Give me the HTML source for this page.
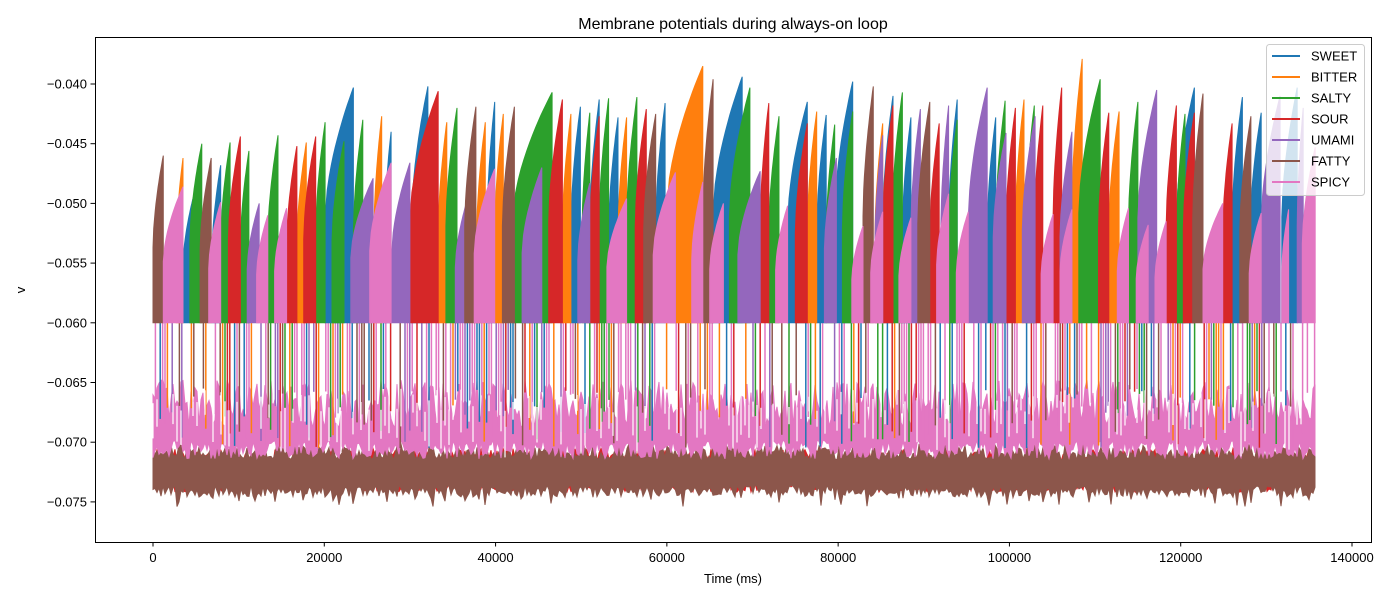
<!DOCTYPE html>
<html><head><meta charset="utf-8"><style>
body{margin:0;background:#fff;}
svg text{font-family:"Liberation Sans","DejaVu Sans",sans-serif;}
</style></head>
<body>
<svg id="chart" width="1400" height="600" viewBox="0 0 1400 600" xmlns="http://www.w3.org/2000/svg">
<rect width="1400" height="600" fill="#fff"/>
<text x="733" y="29" font-size="16" text-anchor="middle">Membrane potentials during always-on loop</text>
<g id="plot"></g>
<rect x="95.5" y="37.5" width="1276" height="505" fill="none" stroke="#000" stroke-width="1"/>
<g id="axes"></g>
<text x="733" y="583" font-size="13" text-anchor="middle">Time (ms)</text>
<text x="25" y="290" font-size="13" text-anchor="middle" transform="rotate(-90 25 290)">v</text>
<g id="legend"></g>
</svg>
<script>
const seriesNames = ["SWEET","BITTER","SALTY","SOUR","UMAMI","FATTY","SPICY"];
const seriesColors = ["#1f77b4","#ff7f0e","#2ca02c","#d62728","#9467bd","#8c564b","#e377c2"];
const xTicks = [0,20000,40000,60000,80000,100000,120000,140000];
const yTicks = [-0.040,-0.045,-0.050,-0.055,-0.060,-0.065,-0.070,-0.075];
const resetV = -0.060;
const restTop = [-0.0705,-0.0705,-0.0705,-0.0712,-0.0705,-0.0708,-0.0668];
const restBottom = [-0.0745,-0.0745,-0.0745,-0.0736,-0.0745,-0.0740,-0.0702];
const endMs = 135700;
// bursts: [startMs, endMs, seriesIndex, peakV]
const bursts = [
[0,1200,5,-0.0460],[1200,3500,6,-0.0486],[2700,3500,1,-0.0462],[3500,4700,0,-0.0495],[4300,5700,2,-0.0450],
[5500,6800,5,-0.0462],[6500,7900,6,-0.0499],[6900,7900,0,-0.0468],[7900,9000,2,-0.0449],[8800,10200,3,-0.0444],
[10200,11200,2,-0.0456],[11000,12400,4,-0.0500],[12100,13400,6,-0.0510],[13400,14600,2,-0.0443],[14200,15600,6,-0.0504],
[15600,16800,3,-0.0452],[16800,17900,1,-0.0449],[17600,19000,3,-0.0444],[19000,20100,2,-0.0432],[20100,23400,0,-0.0403],
[20900,22300,2,-0.0448],[23100,25700,4,-0.0479],[23400,24500,2,-0.0430],[25800,26700,1,-0.0427],[25300,27800,6,-0.0466],
[27000,27800,0,-0.0440],[27900,30000,4,-0.0466],[30200,32100,0,-0.0402],[30000,33300,3,-0.0406],[33300,34300,1,-0.0432],
[34200,35500,2,-0.0420],[35300,36700,4,-0.0497],[36400,37700,5,-0.0419],[37800,38800,1,-0.0432],[37500,39900,6,-0.0471],
[39000,39900,0,-0.0415],[39900,40900,1,-0.0425],[40800,42200,5,-0.0419],[42000,46600,2,-0.0407],[43100,45400,4,-0.0470],
[46200,47800,3,-0.0413],[47800,48800,1,-0.0425],[48800,49900,0,-0.0419],[49600,51000,4,-0.0483],[50100,51000,2,-0.0424],
[51000,52100,0,-0.0413],[51000,52100,3,-0.0427],[52100,53200,2,-0.0412],[53000,55300,6,-0.0496],[53200,54300,0,-0.0428],
[54300,55300,1,-0.0428],[55300,56500,2,-0.0411],[56300,57600,3,-0.0421],[57300,58700,5,-0.0425],[58700,59800,0,-0.0416],
[58400,61000,6,-0.0474],[60400,61000,4,-0.0474],[60000,64200,1,-0.0385],[62900,64200,6,-0.0482],[64200,65400,5,-0.0396],
[65400,68800,0,-0.0394],[65000,66600,6,-0.0500],[67300,69700,2,-0.0403],[68300,70900,4,-0.0473],[70900,71900,3,-0.0416],
[71900,73100,2,-0.0427],[72700,74100,6,-0.0502],[74100,76400,0,-0.0415],[75000,76400,3,-0.0433],[76400,77500,1,-0.0423],
[77500,78600,0,-0.0426],[78400,79800,4,-0.0462],[78600,79600,2,-0.0434],[79600,81700,0,-0.0398],[80500,81700,2,-0.0423],
[81600,82900,6,-0.0519],[82900,84100,5,-0.0402],[83800,85200,6,-0.0507],[84300,85200,1,-0.0433],[84300,85200,4,-0.0443],
[85200,86400,0,-0.0410],[85200,86400,3,-0.0418],[86300,87500,2,-0.0407],[87500,88500,0,-0.0428],[87100,88500,6,-0.0512],
[88500,89600,4,-0.0421],[89300,90700,5,-0.0415],[90700,91800,3,-0.0433],[91500,92900,6,-0.0492],[92000,92900,4,-0.0418],
[92900,93900,0,-0.0413],[92900,93900,2,-0.0430],[93800,95200,6,-0.0507],[95200,97400,4,-0.0403],[97400,98400,0,-0.0428],
[98100,99600,4,-0.0441],[98400,99500,2,-0.0414],[99600,100700,3,-0.0420],[100700,101700,1,-0.0413],[101500,103000,4,-0.0427],
[101900,102900,2,-0.0418],[102900,103900,3,-0.0418],[103700,105100,6,-0.0509],[105100,106100,3,-0.0403],[105900,107300,4,-0.0440],
[105900,107300,6,-0.0505],[107300,108500,1,-0.0379],[108100,110600,2,-0.0396],[110400,111600,3,-0.0424],[111600,112800,1,-0.0423],
[112600,113900,6,-0.0504],[113900,115000,2,-0.0415],[114800,116200,6,-0.0518],[115000,117200,4,-0.0405],[117000,118300,6,-0.0515],
[118300,119500,3,-0.0418],[119500,121600,0,-0.0403],[119500,120500,2,-0.0425],[120300,121600,3,-0.0424],[121400,122600,5,-0.0408],
[122600,124900,6,-0.0500],[124900,126000,3,-0.0433],[126000,127200,0,-0.0411],[126900,128200,5,-0.0427],[128100,129400,0,-0.0424],
[128000,129400,6,-0.0508],[129400,131600,4,-0.0410],[131800,133600,0,-0.0403],[131800,132600,6,-0.0505],[133600,134300,4,-0.0420],
[134200,135700,6,-0.0453]
];

const NS = "http://www.w3.org/2000/svg";
const xS = ms => 153 + ms * (1352 - 153) / 140000;
const yS = v => 84 + (-0.040 - v) / 0.005 * 59.7;
// deterministic texture jitter (visual noise texture only, not data)
function jit(i, s){ const x = Math.sin(i * 12.9898 + s * 78.233) * 43758.5453; return x - Math.floor(x); }

const svg = document.getElementById('chart');
const plot = document.getElementById('plot');
const clip = document.createElementNS(NS,'clipPath'); clip.setAttribute('id','pc');
const cr = document.createElementNS(NS,'rect'); cr.setAttribute('x',96); cr.setAttribute('y',38); cr.setAttribute('width',1275); cr.setAttribute('height',504);
clip.appendChild(cr); svg.appendChild(clip);
plot.setAttribute('clip-path','url(#pc)');

const x0 = xS(0), x1 = xS(endMs);

// resting noise bands (series order so SPICY lands on top)
for (let s = 0; s < seriesNames.length; s++) {
  if (s !== 5 && s !== 6 && s !== 3) continue;
  const top = [], bot = [];
  let i = 0;
  for (let x = x0; x <= x1 + 0.1; x += 2, i++) {
    const tv = restTop[s] + (jit(i, s + 11) - 0.5) * (s === 6 ? 0.0040 : 0.0014);
    const spike = (s === 5 && jit(i, 44) > 0.9) ? 0.0008 : 0;
    const bv = restBottom[s] - (jit(i, s + 21)) * (s === 6 ? 0.0016 : 0.0010) + 0.0004 - spike;
    top.push(x.toFixed(1) + ',' + yS(tv).toFixed(1));
    bot.unshift(x.toFixed(1) + ',' + yS(bv).toFixed(1));
  }
  const pg = document.createElementNS(NS,'polygon');
  
  
  pg.setAttribute('points', top.concat(bot).join(' '));
  pg.setAttribute('fill', seriesColors[s]);
  pg.setAttribute('stroke', seriesColors[s]); pg.setAttribute('stroke-width','1');
  plot.appendChild(pg);
}

// reset streaks: vertical lines from reset level down into the resting band
const streaks = document.createElementNS(NS,'g');


plot.appendChild(streaks);
let si = 0;
for (let x = x0; x <= x1; x += 2.4, si++) {
  if (jit(si, 3) < 0.35) continue;
  const r = jit(si, 5);
  const c = r < 0.35 ? 6 : Math.floor(jit(si, 6) * 6);
  const ln = document.createElementNS(NS,'line');
  
  
  const bottom = -0.0655 - 0.005 * jit(si, 9);
  ln.setAttribute('x1', x.toFixed(1)); ln.setAttribute('x2', x.toFixed(1));
  ln.setAttribute('y1', yS(resetV)); ln.setAttribute('y2', yS(bottom).toFixed(1));
  ln.setAttribute('stroke', seriesColors[c]); ln.setAttribute('stroke-width','1.5');
  streaks.appendChild(ln);
}
// white slits through the pink band
let wi = 0;
for (let x = x0; x <= x1; x += 4, wi++) {
  if (jit(wi, 33) < 0.5) continue;
  const ln = document.createElementNS(NS,'line');
  
  
  const a = -0.0655 - 0.002 * jit(wi, 34);
  const b = a - 0.001 - 0.003 * jit(wi, 35);
  ln.setAttribute('x1', x.toFixed(1)); ln.setAttribute('x2', x.toFixed(1));
  ln.setAttribute('y1', yS(a).toFixed(1)); ln.setAttribute('y2', yS(b).toFixed(1));
  ln.setAttribute('stroke', '#fff'); ln.setAttribute('stroke-width','1.2');
  plot.appendChild(ln);
}

// bursts per series
for (let s = 0; s < seriesNames.length; s++) {
  const g = document.createElementNS(NS,'g');
  
  
  plot.appendChild(g);
  const col = seriesColors[s];
  bursts.forEach((b) => {
    if (b[2] !== s) return;
    const bx0 = xS(b[0]), bx1 = xS(b[1]);
    let p = [bx0.toFixed(1) + ',' + yS(resetV).toFixed(1)];
    const n = 14;
    for (let j = 0; j <= n; j++) {
      const f = j / n;
      const v = resetV + (b[3] - resetV) * (0.45 + 0.55 * Math.pow(f, 0.6));
      p.push((bx0 + (bx1 - bx0) * f).toFixed(1) + ',' + yS(v).toFixed(1));
    }
    p.push(bx1.toFixed(1) + ',' + yS(resetV).toFixed(1));
    const poly = document.createElementNS(NS,'polygon');
    
    
    poly.setAttribute('points', p.join(' '));
    poly.setAttribute('fill', col); poly.setAttribute('stroke', col); poly.setAttribute('stroke-width','1');
    g.appendChild(poly);
  });
}

// axes ticks
const axes = document.getElementById('axes');
xTicks.forEach(t => {
  const x = xS(t);
  const ln = document.createElementNS(NS,'line');
   
  ln.setAttribute('x1',x); ln.setAttribute('x2',x); ln.setAttribute('y1',542); ln.setAttribute('y2',546.5); ln.setAttribute('stroke','#000');
  axes.appendChild(ln);
  const tx = document.createElementNS(NS,'text');
   
  tx.setAttribute('x',x); tx.setAttribute('y',562); tx.setAttribute('font-size','13'); tx.setAttribute('text-anchor','middle');
  tx.textContent = String(t);
  axes.appendChild(tx);
});
yTicks.forEach(t => {
  const y = yS(t);
  const ln = document.createElementNS(NS,'line');
   
  ln.setAttribute('x1',90.5); ln.setAttribute('x2',95); ln.setAttribute('y1',y); ln.setAttribute('y2',y); ln.setAttribute('stroke','#000');
  axes.appendChild(ln);
  const tx = document.createElementNS(NS,'text');
   
  tx.setAttribute('x',87); tx.setAttribute('y',y + 4.5); tx.setAttribute('font-size','13'); tx.setAttribute('text-anchor','end');
  tx.textContent = '\u2212' + Math.abs(t).toFixed(3);
  axes.appendChild(tx);
});

// legend
const lg = document.getElementById('legend');
const box = document.createElementNS(NS,'rect');
 
box.setAttribute('x',1266.5); box.setAttribute('y',44.5); box.setAttribute('width',98); box.setAttribute('height',151); box.setAttribute('rx',3);
box.setAttribute('fill','rgba(255,255,255,0.8)'); box.setAttribute('stroke','#ccc');
lg.appendChild(box);
seriesNames.forEach((nm, i) => {
  const y = 56 + i * 21;
  const ln = document.createElementNS(NS,'line');
   
  ln.setAttribute('x1',1272); ln.setAttribute('x2',1300); ln.setAttribute('y1',y); ln.setAttribute('y2',y);
  ln.setAttribute('stroke',seriesColors[i]); ln.setAttribute('stroke-width','2');
  lg.appendChild(ln);
  const tx = document.createElementNS(NS,'text');
   
  tx.setAttribute('x',1311); tx.setAttribute('y',y + 4.5); tx.setAttribute('font-size','13');
  tx.textContent = nm;
  lg.appendChild(tx);
});
</script>
</body></html>
